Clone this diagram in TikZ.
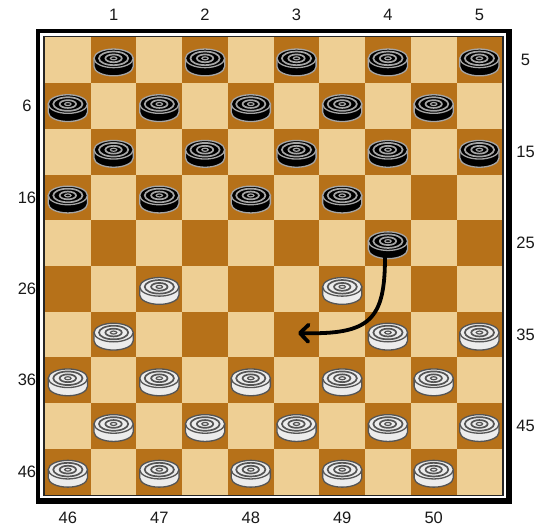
\documentclass[tikz,border=0pt]{standalone}
\usepackage{fontspec}
\setmainfont{Liberation Sans}
\usetikzlibrary{arrows.meta}
\definecolor{lightsq}{RGB}{238,207,148}
\definecolor{darksq}{RGB}{182,113,25}
\definecolor{bline}{RGB}{165,165,165}
\definecolor{wfill}{RGB}{236,236,236}
\definecolor{wline}{RGB}{85,85,85}
\tikzset{
  lbl/.style={font=\fontsize{16.5}{16.5}\selectfont, text=black!90, inner sep=0pt},
  pics/man/.style 2 args={code={
    \draw[line width=1.3, draw=#2, fill=#1] (-19.6,-2) -- (-19.6,6.2)
      arc[start angle=180,end angle=0,x radius=19.6,y radius=9.3] -- (19.6,-2) -- cycle;
    \draw[line width=1.3, draw=#2, fill=#1] (0,-2) ellipse[x radius=19.6,y radius=9.3];
    \draw[line width=1.7, draw=#2] (0,-2) ellipse[x radius=14.6,y radius=6.8];
    \draw[line width=1.7, draw=#2] (0,-2) ellipse[x radius=8.2,y radius=3.9];
    \draw[line width=1.2, draw=#2] (0,-2) ellipse[x radius=3.2,y radius=1.5];
  }},
  movearrow/.style={line width=3.8, line cap=round, -{Straight Barb[length=8.5pt,width=17pt,round]}},
}
\begin{document}
\begin{tikzpicture}[x=1pt,y=-1pt]
\useasboundingbox (0,0) rectangle (546,529);
% frame
\fill[black] (36,29) rectangle (512,504);
\fill[white] (40,33) rectangle (506,498);
% board
\fill[lightsq] (45,37.5) rectangle (502.3,494.5);
\foreach \r in {0,...,9} {
  \pgfmathtruncatemacro\s{mod(\r+1,2)}
  \foreach \k in {0,...,4} {
    \fill[darksq] ({45+(\s+2*\k)*45.73},{37.5+\r*45.7}) rectangle +(45.73,45.7);
  }
}
\draw[black!85, line width=1.5] (44,36.6) rectangle (503.2,495.3);
% black men
\foreach \n in {1,...,19,24} {
  \pgfmathtruncatemacro\r{int((\n-1)/5)}
  \pgfmathtruncatemacro\k{\n-1-5*\r}
  \pgfmathtruncatemacro\c{ifthenelse(mod(\r,2)==0, 2*\k+1, 2*\k)}
  \pic at ({45+(\c+0.5)*45.73},{37.5+(\r+0.5)*45.7}) {man={black}{bline}};
}
% white men
\foreach \n in {27,29,31,34,35,36,...,50} {
  \pgfmathtruncatemacro\r{int((\n-1)/5)}
  \pgfmathtruncatemacro\k{\n-1-5*\r}
  \pgfmathtruncatemacro\c{ifthenelse(mod(\r,2)==0, 2*\k+1, 2*\k)}
  \pic at ({45+(\c+0.5)*45.73},{37.5+(\r+0.5)*45.7}) {man={wfill}{wline}};
}
% labels
\foreach \t [count=\i from 0] in {1,2,3,4,5} {
  \node[lbl] (top\t) at ({45+(2*\i+1.5)*45.73},15) {\t};
}
\foreach \t [count=\i from 0] in {6,16,26,36,46} {
  \node[lbl] (left\t) at (27,{37.5+(2*\i+1.5)*45.7}) {\t};
}
\foreach \t [count=\i from 0] in {5,15,25,35,45} {
  \node[lbl] (right\t) at (525.5,{37.5+(2*\i+0.5)*45.7}) {\t};
}
\foreach \t [count=\i from 0] in {46,47,48,49,50} {
  \node[lbl] (bot\t) at ({45+(2*\i+0.5)*45.73},517.5) {\t};
}
% move arrow
\coordinate (from24) at (385,257);
\coordinate (to33) at (298,333);
\draw[movearrow] (from24) .. controls (385,320) and (370,335) .. (to33);
\end{tikzpicture}
\end{document}
